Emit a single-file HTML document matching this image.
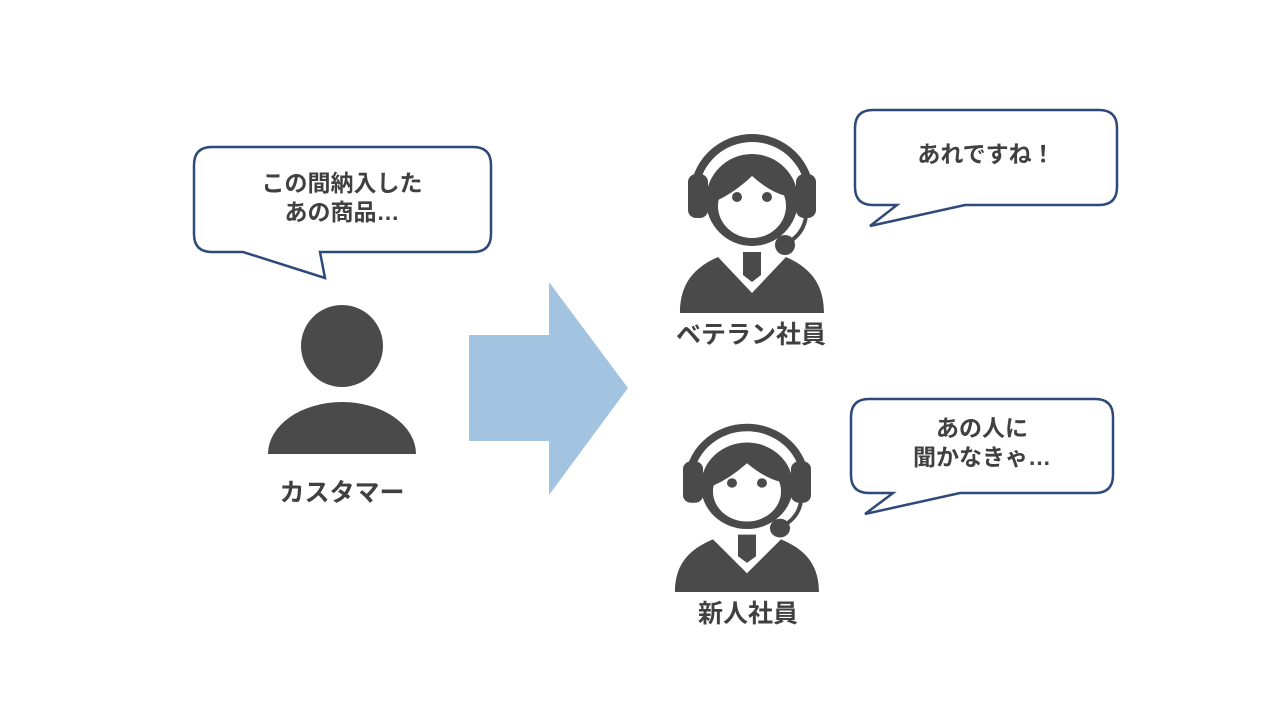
<!DOCTYPE html>
<html><head><meta charset="utf-8"><style>
body{margin:0;width:1280px;height:720px;background:#fff;overflow:hidden}
svg{display:block}
text{font-family:"Liberation Sans","Noto Sans CJK JP",sans-serif;font-weight:bold;fill:#404040;text-anchor:middle}
</style></head><body>
<svg width="1280" height="720" viewBox="0 0 1280 720">
<defs>
<g id="op">
  <path d="M14,66 A58,58 0 0 1 130,66" fill="none" stroke="#4a4a4a" stroke-width="8"/>
  <rect x="8" y="44" width="20" height="44" rx="8" fill="#4a4a4a"/>
  <rect x="116" y="44" width="20" height="44" rx="8" fill="#4a4a4a"/>
  <circle cx="72" cy="70" r="46" fill="#4a4a4a"/>
  <ellipse cx="72" cy="76" rx="34" ry="32" fill="#fff"/>
  <path d="M38,70 Q55,62 72,46 Q90,62 106,66 L106,60 A34,34 0 0 0 38,60 Z" fill="#4a4a4a"/>
  <circle cx="57" cy="67" r="5" fill="#4a4a4a"/>
  <circle cx="87" cy="67" r="5" fill="#4a4a4a"/>
  <path d="M126,86 Q124,104 106,114" fill="none" stroke="#4a4a4a" stroke-width="4"/>
  <circle cx="105" cy="115" r="10" fill="#4a4a4a"/>
  <path d="M0,183 C0,150 18,136 38,127 L72,163 L106,127 C126,136 144,150 144,183 Z" fill="#4a4a4a"/>
  <path d="M63,122 L81,122 L81,145 L72,152 L63,145 Z" fill="#4a4a4a"/>
</g>
</defs>

<path d="M212,147 L473,147 Q491,147 491,165 L491,234 Q491,252 473,252 L320,252 L325,278 L243,252 L212,252 Q194,252 194,234 L194,165 Q194,147 212,147 Z" fill="#fff" stroke="#2f4a7a" stroke-width="2.5"/>
<text x="342" y="191" font-size="23">この間納入した</text>
<text x="342" y="220" font-size="23">あの商品…</text>

<path d="M873,110 L1099,110 Q1117,110 1117,128 L1117,187 Q1117,205 1099,205 L965,205 L870,226 L897,205 L873,205 Q855,205 855,187 L855,128 Q855,110 873,110 Z" fill="#fff" stroke="#2f4a7a" stroke-width="2.5"/>
<text x="986" y="162" font-size="23">あれですね！</text>

<path d="M869,399 L1095,399 Q1113,399 1113,417 L1113,475 Q1113,493 1095,493 L960,493 L865,514 L893,493 L869,493 Q851,493 851,475 L851,417 Q851,399 869,399 Z" fill="#fff" stroke="#2f4a7a" stroke-width="2.5"/>
<text x="982" y="436" font-size="23">あの人に</text>
<text x="982" y="465" font-size="23">聞かなきゃ…</text>

<circle cx="342" cy="346" r="41" fill="#4a4a4a"/>
<path d="M268,454 A74,52 0 0 1 416,454 Z" fill="#4a4a4a"/>
<text x="342" y="501" font-size="25">カスタマー</text>

<path d="M469,335 L549,335 L549,282 L628,388 L549,495 L549,441 L469,441 Z" fill="#a3c4e0"/>

<use href="#op" transform="translate(680,130)"/>
<text x="751" y="343" font-size="25">ベテラン社員</text>
<use href="#op" transform="translate(675,420) scale(1.0,0.94)"/>
<text x="748" y="622" font-size="25">新人社員</text>
</svg>
</body></html>
